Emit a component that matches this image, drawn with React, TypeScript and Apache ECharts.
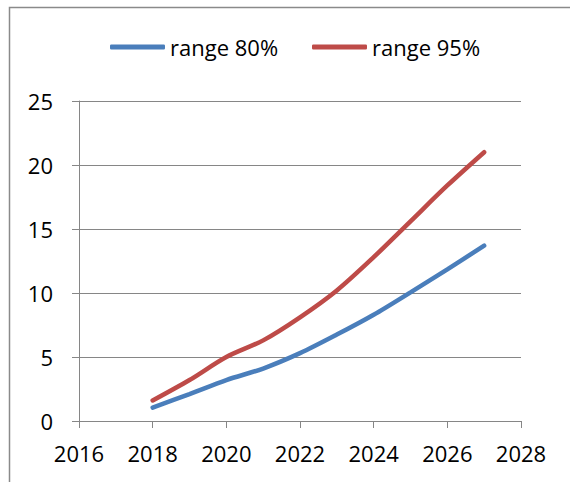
import React, { useEffect, useRef } from "react";
import * as echarts from "echarts";

// Years on the x axis and the two forecast ranges
const years = [2018, 2019, 2020, 2021, 2022, 2023, 2024, 2025, 2026, 2027];
const range80 = [1.05, 2.1, 3.2, 4.1, 5.3, 6.75, 8.3, 10.05, 11.85, 13.7];
const range95 = [1.6, 3.2, 5.0, 6.3, 8.1, 10.2, 12.8, 15.6, 18.4, 21.0];
const seriesNames = ["range 80%", "range 95%"];

const FONT = "'Open Sans', Lato, sans-serif";
const AXIS_GRAY = "#868686";

export default function App() {
  const ref = useRef<HTMLDivElement>(null);

  useEffect(() => {
    if (!ref.current) return;
    const chart = echarts.init(ref.current, undefined, { renderer: "svg" });

    const pairs = (vals: number[]) => years.map((y, i) => [y, vals[i]]);
    const legendText = { fontSize: 22, color: "#000", fontFamily: FONT };

    chart.setOption({
      animation: false,
      backgroundColor: "#fff",
      textStyle: { fontFamily: FONT },
      graphic: [
        {
          type: "rect",
          shape: { x: 9.5, y: 7.5, width: 620, height: 520 },
          style: { fill: "none", stroke: "#8a8a8a", lineWidth: 1.5 },
          silent: true,
        },
      ],
      legend: [
        {
          data: [seriesNames[0]],
          left: 105,
          top: 31,
          itemWidth: 55,
          itemHeight: 5,
          icon: "roundRect",
          textStyle: legendText,
        },
        {
          data: [seriesNames[1]],
          left: 307,
          top: 31,
          itemWidth: 55,
          itemHeight: 5,
          icon: "roundRect",
          textStyle: legendText,
        },
      ],
      grid: { left: 79, top: 101, width: 442, height: 320, containLabel: false },
      xAxis: {
        type: "value",
        min: 2016,
        max: 2028,
        interval: 2,
        axisLine: { show: true, lineStyle: { color: AXIS_GRAY, width: 1 } },
        axisTick: { show: true, length: 7, lineStyle: { color: AXIS_GRAY } },
        splitLine: { show: false },
        axisLabel: {
          color: "#000",
          fontSize: 22,
          fontFamily: FONT,
          margin: 21,
          formatter: (v: number) => String(v),
        },
      },
      yAxis: {
        type: "value",
        min: 0,
        max: 25,
        interval: 5,
        axisLine: { show: true, lineStyle: { color: AXIS_GRAY, width: 1 } },
        axisTick: { show: true, length: 7, lineStyle: { color: AXIS_GRAY } },
        splitLine: { show: true, lineStyle: { color: AXIS_GRAY, width: 1 } },
        axisLabel: { color: "#000", fontSize: 22, fontFamily: FONT, margin: 26 },
      },
      series: [
        {
          name: seriesNames[0],
          type: "line",
          data: pairs(range80),
          smooth: 0.3,
          symbol: "none",
          color: "#4a7ebb",
          lineStyle: { width: 4.5, color: "#4a7ebb", cap: "round" },
        },
        {
          name: seriesNames[1],
          type: "line",
          data: pairs(range95),
          smooth: 0.3,
          symbol: "none",
          color: "#be4b48",
          lineStyle: { width: 4.5, color: "#be4b48", cap: "round" },
        },
      ],
    });

    return () => chart.dispose();
  }, []);

  return (
    <div
      ref={ref}
      style={{ position: "fixed", left: 0, top: 0, width: 570, height: 482 }}
    />
  );
}
